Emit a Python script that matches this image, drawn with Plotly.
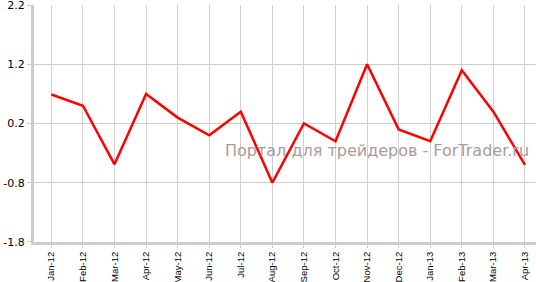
import plotly.graph_objects as go

months = ["Jan-12", "Feb-12", "Mar-12", "Apr-12", "May-12", "Jun-12", "Jul-12", "Aug-12",
          "Sep-12", "Oct-12", "Nov-12", "Dec-12", "Jan-13", "Feb-13", "Mar-13", "Apr-13"]
values = [0.69, 0.50, -0.49, 0.70, 0.30, 0.0, 0.40, -0.80,
          0.20, -0.10, 1.20, 0.10, -0.10, 1.10, 0.40, -0.50]
y_ticks = [2.2, 1.2, 0.2, -0.8, -1.8]
y_tick_labels = ["2.2", "1.2", "0.2", "-0.8", "-1.8"]
watermark = "Портал для трейдеров - ForTrader.ru"

x_idx = list(range(len(months)))

fig = go.Figure()
fig.add_trace(go.Scatter(x=x_idx, y=values, mode="lines",
                         line=dict(color="#ff0000", width=2.5), hoverinfo="skip"))

fig.update_layout(
    width=536, height=282,
    margin=dict(l=34, r=0, t=5, b=40),
    plot_bgcolor="white", paper_bgcolor="white",
    showlegend=False,
    font=dict(family="DejaVu Sans", color="#000000"),
    annotations=[dict(text=watermark, xref="paper", yref="paper",
                      x=0.99, y=0.385, xanchor="right", yanchor="middle",
                      showarrow=False,
                      font=dict(family="DejaVu Sans", size=16, color="#a89c9c"))],
)
fig.update_xaxes(
    range=[-0.55, 15.35],
    tickvals=x_idx, ticktext=months, tickangle=-90,
    tickfont=dict(family="Liberation Sans", size=9.5, color="#000000"),
    showgrid=True, gridcolor="#d0d0d0", gridwidth=1,
    showline=True, linecolor="#cccccc", linewidth=3,
    ticks="outside", ticklen=3, tickcolor="#cccccc",
    zeroline=False, automargin=False,
)
fig.update_yaxes(
    range=[-1.802, 2.202],
    tickvals=y_ticks, ticktext=y_tick_labels,
    tickfont=dict(size=11, color="#000000"),
    showgrid=True, gridcolor="#cccccc", gridwidth=1,
    showline=True, linecolor="#cccccc", linewidth=3,
    ticks="outside", ticklen=4, tickcolor="#cccccc",
    zeroline=False, automargin=False, ticklabeloverflow="allow",
)

fig.write_html("out.html")
